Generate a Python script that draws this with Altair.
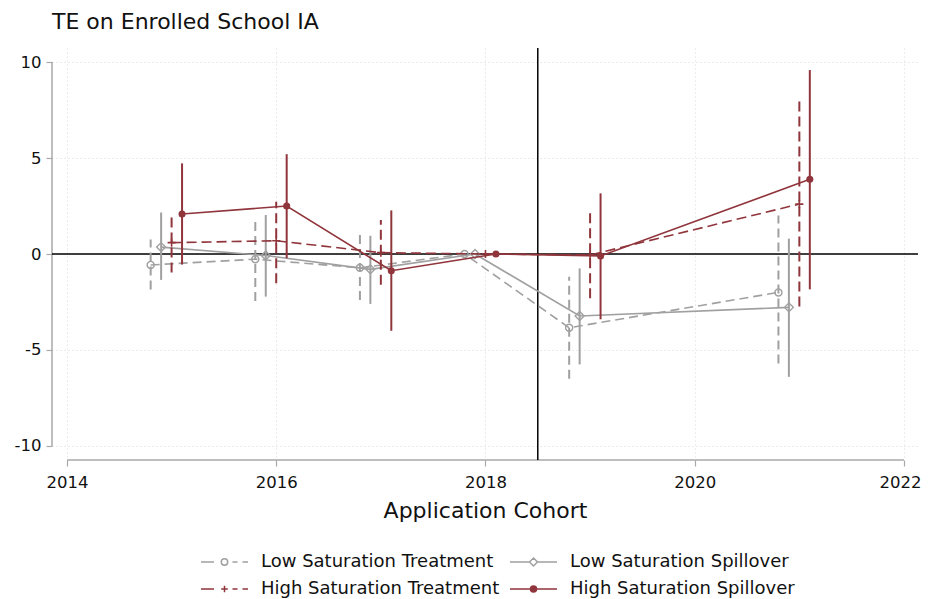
import altair as alt
import pandas as pd

# ---------------- data ----------------
years = [2015, 2016, 2017, 2018, 2019, 2021]
series_names = ["Low Saturation Treatment", "Low Saturation Spillover",
                "High Saturation Treatment", "High Saturation Spillover"]
x_offsets = [-0.2, -0.1, 0.0, 0.1]

lst_coef = [-0.57, -0.27, -0.72, 0.0, -3.84, -2.00]
lst_lo = [-1.85, -2.45, -2.40, None, -6.50, -5.70]
lst_hi = [0.75, 1.90, 0.99, None, -1.18, 2.00]

lss_coef = [0.36, -0.08, -0.80, 0.0, -3.23, -2.78]
lss_lo = [-1.35, -2.22, -2.60, None, -5.75, -6.40]
lss_hi = [2.16, 2.03, 0.95, None, -0.75, 0.80]

hst_coef = [0.59, 0.69, 0.07, 0.0, -0.05, 2.60]
hst_lo = [-0.97, -1.53, -1.60, None, -2.30, -2.74]
hst_hi = [2.10, 2.72, 1.77, None, 2.33, 7.95]

hss_coef = [2.08, 2.50, -0.87, 0.0, -0.10, 3.89]
hss_lo = [-0.55, -0.22, -4.00, None, -3.40, -1.84]
hss_hi = [4.72, 5.20, 2.27, None, 3.16, 9.58]

x_ticks = [2014, 2016, 2018, 2020, 2022]
y_ticks = [-10, -5, 0, 5, 10]
event_line = [2018.5]
zero_line = [0]

title_text = "TE on Enrolled School IA"
x_title = "Application Cohort"

# ---------------- styles ----------------
GRAY = "#a0a0a0"
RED = "#90353b"
AXIS_GRAY = "#a8a8a8"
colors = [GRAY, GRAY, RED, RED]
dashes = [[9, 5], None, [10, 5], None]
point_styles = [
    dict(shape="circle", filled=False, size=50, strokeWidth=1.4),
    dict(shape="diamond", filled=False, size=80, strokeWidth=1.4),
    dict(shape="M-1,0H1M0,-1V1", filled=False, size=64, strokeWidth=1.6),
    dict(shape="circle", filled=True, size=50),
]

# legend symbols (line + marker) as custom paths, designed in pixels
SYM = 18  # legend symbol "diameter" used by the layout
K = 2.0 / SYM  # pixel -> path unit


def f(v):
    return f"{v * K:.4f}"


def hseg(a, b):
    return f"M{f(a)},0H{f(b)}"


def ring(r):
    return f"M{f(r)},0A{f(r)},{f(r)} 0 1,1 {f(-r)},0A{f(r)},{f(r)} 0 1,1 {f(r)},0"


def diamond(r):
    return f"M0,{f(-r)}L{f(r)},0L0,{f(r)}L{f(-r)},0Z"


def plus(r):
    return f"M{f(-r)},0H{f(r)}M0,{f(-r)}V{f(r)}"


legend_paths = [
    hseg(-23.5, -10.5) + ring(3.2) + hseg(8, 13) + hseg(18, 23.5),
    hseg(-23.5, -4) + hseg(4, 23.5) + diamond(4),
    hseg(-23.5, -10.5) + plus(3.3) + hseg(8, 13) + hseg(18, 23.5),
    hseg(-23.5, 23.5) + "".join(ring(r) for r in [3.0, 2.1, 1.2, 0.4]),
]

X_DOMAIN = [2013.857, 2022.134]
Y_DOMAIN = [-10.73, 10.73]
W, H = 866, 412

xscale = alt.Scale(domain=X_DOMAIN, nice=False, zero=False)
yscale = alt.Scale(domain=Y_DOMAIN, nice=False, zero=False)

xaxis = alt.Axis(values=x_ticks, labelExpr="'' + datum.value", title=x_title, domain=False,
                 grid=True, gridDash=[1, 3], gridColor="#d9d9d9",
                 tickColor=AXIS_GRAY, tickSize=6, tickWidth=1.2,
                 labelFontSize=16.5, labelColor="#111111", labelPadding=8,
                 labelOffset={"condition": {"test": f"datum.value == {max(x_ticks)}", "value": -4}, "value": 0},
                 titleFontSize=22, titleFontWeight="normal", titleColor="#111111",
                 titlePadding=10)
yaxis = alt.Axis(values=y_ticks, labelExpr="'' + datum.value", title=None, domain=False,
                 grid=True, gridDash=[1, 3], gridColor="#d9d9d9",
                 tickColor=AXIS_GRAY, tickSize=6, tickWidth=1.2,
                 labelFontSize=16.5, labelColor="#111111", labelPadding=5)

layers = []

# axes lines spanning only the tick range (Stata style)
axis_df = pd.DataFrame({"xmin": [min(x_ticks)], "xmax": [max(x_ticks)],
                        "ymin": [min(y_ticks)], "ymax": [max(y_ticks)]})
layers.append(
    alt.Chart(axis_df).mark_rule(color=AXIS_GRAY, strokeWidth=1.5).encode(
        x=alt.X("xmin:Q", scale=xscale, axis=xaxis), x2="xmax:Q", y=alt.value(H))
)
layers.append(
    alt.Chart(axis_df).mark_rule(color=AXIS_GRAY, strokeWidth=1.5).encode(
        y=alt.Y("ymin:Q", scale=yscale, axis=yaxis), y2="ymax:Q", x=alt.value(0))
)

# reference lines
layers.append(
    alt.Chart(pd.DataFrame({"y0": zero_line})).mark_rule(color="black", strokeWidth=1.5)
    .encode(y=alt.Y("y0:Q", scale=yscale))
)
layers.append(
    alt.Chart(pd.DataFrame({"xv": event_line})).mark_rule(color="black", strokeWidth=1.5)
    .encode(x=alt.X("xv:Q", scale=xscale))
)

all_series = [
    (lst_coef, lst_lo, lst_hi),
    (lss_coef, lss_lo, lss_hi),
    (hst_coef, hst_lo, hst_hi),
    (hss_coef, hss_lo, hss_hi),
]

for i, (coef, lo, hi) in enumerate(all_series):
    df = pd.DataFrame({
        "x": [y + x_offsets[i] for y in years],
        "coef": coef, "lo": lo, "hi": hi,
    })
    ci = df.dropna(subset=["lo", "hi"])
    line_kw = dict(color=colors[i], strokeWidth=1.6)
    rule_kw = dict(color=colors[i], strokeWidth=2)
    if dashes[i] is not None:
        line_kw["strokeDash"] = dashes[i]
        rule_kw["strokeDash"] = dashes[i]
    layers.append(
        alt.Chart(ci).mark_rule(**rule_kw).encode(
            x=alt.X("x:Q", scale=xscale), y=alt.Y("lo:Q", scale=yscale), y2="hi:Q")
    )
    layers.append(
        alt.Chart(df).mark_line(**line_kw).encode(
            x=alt.X("x:Q", scale=xscale), y=alt.Y("coef:Q", scale=yscale))
    )
    layers.append(
        alt.Chart(df).mark_point(color=colors[i], opacity=1, **point_styles[i]).encode(
            x=alt.X("x:Q", scale=xscale), y=alt.Y("coef:Q", scale=yscale))
    )

# legend carrier layer (invisible marks, visible legend)
leg = alt.Legend(title=None, orient="none", legendX=162.5, legendY=504, columns=2,
                 direction="horizontal",
                 symbolSize=SYM * SYM, symbolStrokeWidth=1.5, symbolOpacity=1,
                 labelFontSize=18, labelColor="#111111", labelOffset=26.5,
                 columnPadding=7, rowPadding=8, padding=0, labelLimit=500)
layers.append(
    alt.Chart(pd.DataFrame({"series": series_names})).mark_point(
        filled=False, opacity=0, size=SYM * SYM, strokeWidth=1.5).encode(
        x=alt.value(0), y=alt.value(0),
        color=alt.Color("series:N", scale=alt.Scale(domain=series_names, range=colors), legend=leg),
        shape=alt.Shape("series:N", scale=alt.Scale(domain=series_names, range=legend_paths), legend=leg),
    )
)

chart = alt.layer(*layers).resolve_scale(color="independent", shape="independent").properties(
    width=W, height=H,
    title=alt.Title(title_text, anchor="start", frame="group", fontSize=22,
                    fontWeight="normal", color="#111111", offset=10),
    autosize=alt.AutoSizeParams(type="none"),
    padding={"left": 44, "top": 40, "right": 4, "bottom": 139},
).configure(font="DejaVu Sans").configure_view(strokeWidth=0)

chart.save("out.html", embed_options={"renderer": "svg", "actions": False})
